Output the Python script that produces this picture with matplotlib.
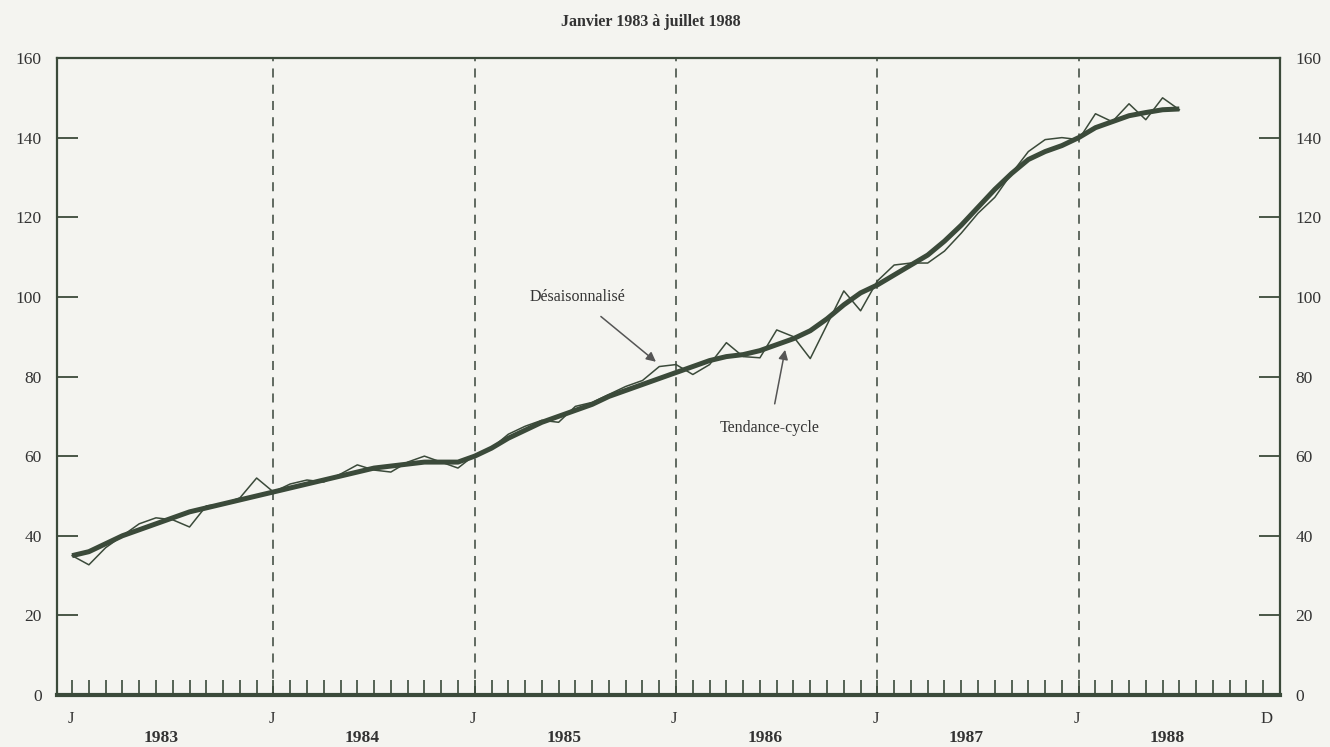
import numpy as np
import matplotlib
matplotlib.use("Agg")
import matplotlib.pyplot as plt

# mois depuis janvier 1983 (0 = J 1983, 66 = juillet 1988)
mois = np.arange(67)

desaisonnalise = [
    35, 32.7, 37, 40, 43, 44.5, 44, 42.2, 47.5, 48, 49.5, 54.5,      # 1983
    51, 53, 54, 53.5, 55.5, 57.8, 56.5, 56, 58.5, 60, 58.5, 57,      # 1984
    60.3, 62, 65.5, 67.5, 69, 68.5, 72.5, 73.5, 75.5, 77.5, 79, 82.5,  # 1985
    83, 80.5, 83, 88.5, 85, 84.7, 91.7, 90, 84.5, 93, 101.5, 96.5,   # 1986
    104, 108, 108.5, 108.5, 111.5, 116, 121, 125, 131, 136.5, 139.5, 140,  # 1987
    139.5, 146, 144, 148.5, 144.5, 150, 147,                         # 1988
]

tendance_cycle = [
    35, 36, 38, 40, 41.5, 43, 44.5, 46, 47, 48, 49, 50,
    51, 52, 53, 54, 55, 56, 57, 57.5, 58, 58.5, 58.5, 58.5,
    60, 62, 64.5, 66.5, 68.5, 70, 71.5, 73, 75, 76.5, 78, 79.5,
    81, 82.5, 84, 85, 85.5, 86.5, 88, 89.5, 91.5, 94.5, 98, 101,
    103, 105.5, 108, 110.5, 114, 118, 122.5, 127, 131, 134.5, 136.5, 138,
    140, 142.5, 144, 145.5, 146.3, 147, 147.2,
]

annees = ["1983", "1984", "1985", "1986", "1987", "1988"]
y_ticks = [0, 20, 40, 60, 80, 100, 120, 140, 160]

couleur = "#3b4a3a"
fond = "#f4f4f0"
serif = ["Liberation Serif", "DejaVu Serif"]

fig = plt.figure(figsize=(13.3, 7.47), dpi=100, facecolor=fond)
ax = fig.add_axes([57 / 1330, 1 - 695 / 747, (1280 - 57) / 1330, (695 - 58) / 747])
ax.set_facecolor(fond)

ax.plot(mois, desaisonnalise, color=couleur, lw=1.1, zorder=3)
ax.plot(mois, tendance_cycle, color=couleur, lw=3.6, solid_capstyle="butt", zorder=4)

# lignes pointillées aux mois de janvier
for m in range(12, 72, 12):
    ax.axvline(m, color="#555f55", lw=1.3, ls=(0, (5, 4)), zorder=1)

ax.set_xlim(-0.9, 72)
ax.set_ylim(0, 160)

for s in ax.spines.values():
    s.set_color(couleur)
    s.set_linewidth(1.6)
ax.spines["bottom"].set_linewidth(3)

# axes y, graduations intérieures des deux côtés
ax.set_yticks(y_ticks)
ax.tick_params(axis="y", direction="in", length=15, width=1.3, color=couleur,
               left=True, right=True, labelleft=True, labelright=True,
               labelsize=12.5, labelcolor="#333", pad=11)
for lab in ax.get_yticklabels():
    lab.set_family(serif)

# graduations mensuelles
ax.set_xticks(np.arange(72))
ax.tick_params(axis="x", direction="in", length=11, width=1.2, color=couleur,
               labelbottom=False)

trans = ax.get_xaxis_transform()
for m in range(0, 72, 12):
    ax.text(m - 0.1, -0.038, "J", transform=trans, ha="center", va="center",
            fontsize=12, family=serif, color="#333")
ax.text(71.2, -0.038, "D", transform=trans, ha="center", va="center",
        fontsize=12, family=serif, color="#333")
for i, a in enumerate(annees):
    ax.text(5.3 + 12 * i, -0.067, a, transform=trans, ha="center", va="center",
            fontsize=12.5, family=serif, fontweight="bold", color="#333")

fig.text(0.489, 0.97, "Janvier 1983 à juillet 1988", ha="center", va="center",
         fontsize=11.5, family=serif, fontweight="bold", color="#333")

# annotations
ax.annotate("Désaisonnalisé", xy=(34.8, 83.7), xytext=(30.1, 100),
            ha="center", va="center", fontsize=11.5, family=serif, color="#333",
            arrowprops=dict(arrowstyle="-|>", color="#555", lw=1.1,
                            shrinkA=10, shrinkB=0, mutation_scale=14))
ax.annotate("Tendance-cycle", xy=(42.5, 86.7), xytext=(41.6, 67),
            ha="center", va="center", fontsize=11.5, family=serif, color="#333",
            arrowprops=dict(arrowstyle="-|>", color="#555", lw=1.1,
                            shrinkA=10, shrinkB=0, mutation_scale=14))

fig.savefig("out.png", dpi=100, facecolor=fond)
